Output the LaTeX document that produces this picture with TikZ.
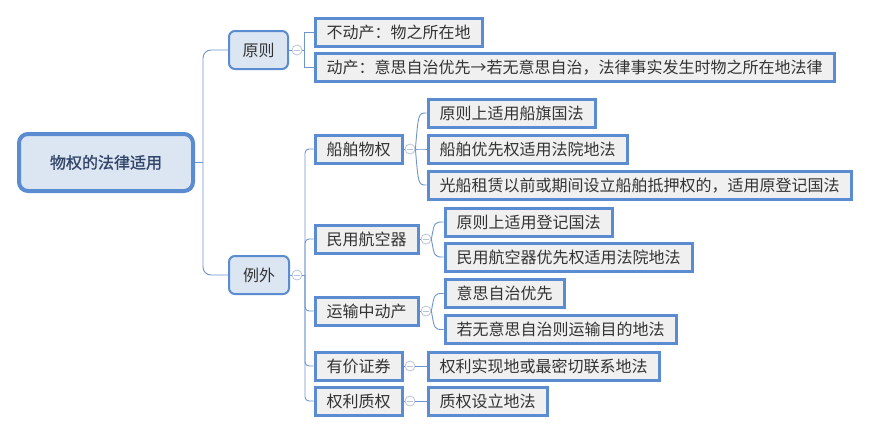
\documentclass[tikz,border=0pt]{standalone}
\usepackage{fontspec}
\setmainfont{Noto Sans CJK SC}
\newfontfamily\rootfont{Noto Sans CJK SC}[FakeBold=1.3]
\usetikzlibrary{calc}
\definecolor{bord}{HTML}{5B8BD0}
\definecolor{leaffill}{HTML}{F0F0F0}
\definecolor{mainfill}{HTML}{DCE6F2}
\definecolor{txt}{HTML}{333333}
\definecolor{roottxt}{HTML}{34476B}
\definecolor{connc}{HTML}{6F95CC}
\definecolor{knobc}{HTML}{B8C4D8}
\begin{document}
\begin{tikzpicture}[x=1pt,y=-1pt,
  every node/.style={font=\fontsize{16}{18}\selectfont, text=txt},
  leaf/.style={draw=bord, line width=3pt, fill=leaffill, anchor=west,
    minimum height=28pt, inner xsep=11.5pt, inner ysep=0pt,
    text height=14pt, text depth=2pt},
  mainbox/.style={draw=bord, line width=2pt, fill=mainfill, rounded corners=6pt,
    minimum height=38pt, inner sep=0pt, text height=14pt, text depth=2pt},
  rootbox/.style={draw=bord, line width=4pt, fill=mainfill, rounded corners=9pt,
    minimum width=174pt, minimum height=57pt, inner sep=0pt,
    font=\rootfont\fontsize{16}{18}\selectfont, text=roottxt,
    text height=14pt, text depth=2pt},
  knob/.style={circle, draw=knobc, line width=0.8pt, fill=white, minimum size=10pt,
    inner sep=0pt,
    path picture={\draw[knobc, line width=0.8pt]
      ([xshift=-3pt]path picture bounding box.center) --
      ([xshift=3pt]path picture bounding box.center);}},
  conn/.style={draw=connc, line width=0.9pt}
]
\useasboundingbox (0,0) rectangle (869,434);
\fill[white] (0,0) rectangle (869,434);

% root and main branches
\node[rootbox] (root) at (106,162.5) {物权的法律适用};
\node[mainbox, minimum width=59pt] (yz) at (258.5,50) {原则};
\node[mainbox, minimum width=60pt] (lw) at (259,275) {例外};
\coordinate (j0) at (203,162.5);

% principle children
\node[leaf] (n1) at (313.5,32) {不动产：物之所在地};
\node[leaf] (n2) at (313.5,67.5) {动产：意思自治优先→若无意思自治，法律事实发生时物之所在地法律};

% exception children
\node[leaf] (s1) at (313.5,149) {船舶物权};
\node[leaf] (s2) at (313.5,239) {民用航空器};
\node[leaf] (s3) at (313.5,311) {运输中动产};
\node[leaf] (s4) at (313.5,366) {有价证券};
\node[leaf] (s5) at (313.5,401) {权利质权};

% grandchildren
\node[leaf] (a1) at (426.5,113) {原则上适用船旗国法};
\node[leaf] (a2) at (426.5,149) {船舶优先权适用法院地法};
\node[leaf] (a3) at (426.5,185) {光船租赁以前或期间设立船舶抵押权的，适用原登记国法};
\node[leaf] (b1) at (443.5,222) {原则上适用登记国法};
\node[leaf] (b2) at (443.5,257) {民用航空器优先权适用法院地法};
\node[leaf] (c1) at (443.5,293.5) {意思自治优先};
\node[leaf] (c2) at (443.5,329.5) {若无意思自治则运输目的地法};
\node[leaf] (d1) at (426.5,366) {权利实现地或最密切联系地法};
\node[leaf] (e1) at (426.5,401) {质权设立地法};

% knobs
\node[knob] (k0) at (297,50) {};
\node[knob] (kL) at (297,275) {};
\node[knob] (k1) at (410,149) {};
\node[knob] (k2) at (426,239) {};
\node[knob] (k3) at (426,311) {};
\node[knob] (k4) at (410,366) {};
\node[knob] (k5) at (410,401) {};

\coordinate (jy) at (304,50);
\coordinate (jl) at (305,275);

% root connectors
\draw[conn] (root.east) -- (j0);
\draw[conn, rounded corners=8pt] (j0) |- (yz.west);
\draw[conn, rounded corners=8pt] (j0) |- (lw.west);

% principle connectors
\draw[conn] (yz.east) -- (k0.west);
\draw[conn] (k0.east) -- (jy);
\draw[conn] (jy) |- (n1.west);
\draw[conn] (jy) |- (n2.west);

% exception connectors
\draw[conn] (lw.east) -- (kL.west);
\draw[conn] (kL.east) -- (jl);
\foreach \t in {s1,s2,s3,s4,s5}{
  \draw[conn, rounded corners=4pt] (jl) |- (\t.west);
}

% sub connectors
\draw[conn] (s1.east) -- (k1.west);
\draw[conn] (s2.east) -- (k2.west);
\draw[conn] (s3.east) -- (k3.west);
\draw[conn] (s4.east) -- (k4.west);
\draw[conn] (s5.east) -- (k5.west);

\foreach \k/\t in {k1/a1,k1/a2,k1/a3,k2/b1,k2/b2,k3/c1,k3/c2}{
  \draw[conn] let \p1=(\k.east), \p2=(\t.west) in
    (\p1) .. controls (\x1+3pt,\y2) .. (\p2);
}
\draw[conn] (k4.east) -- (d1.west);
\draw[conn] (k5.east) -- (e1.west);
\end{tikzpicture}
\end{document}
